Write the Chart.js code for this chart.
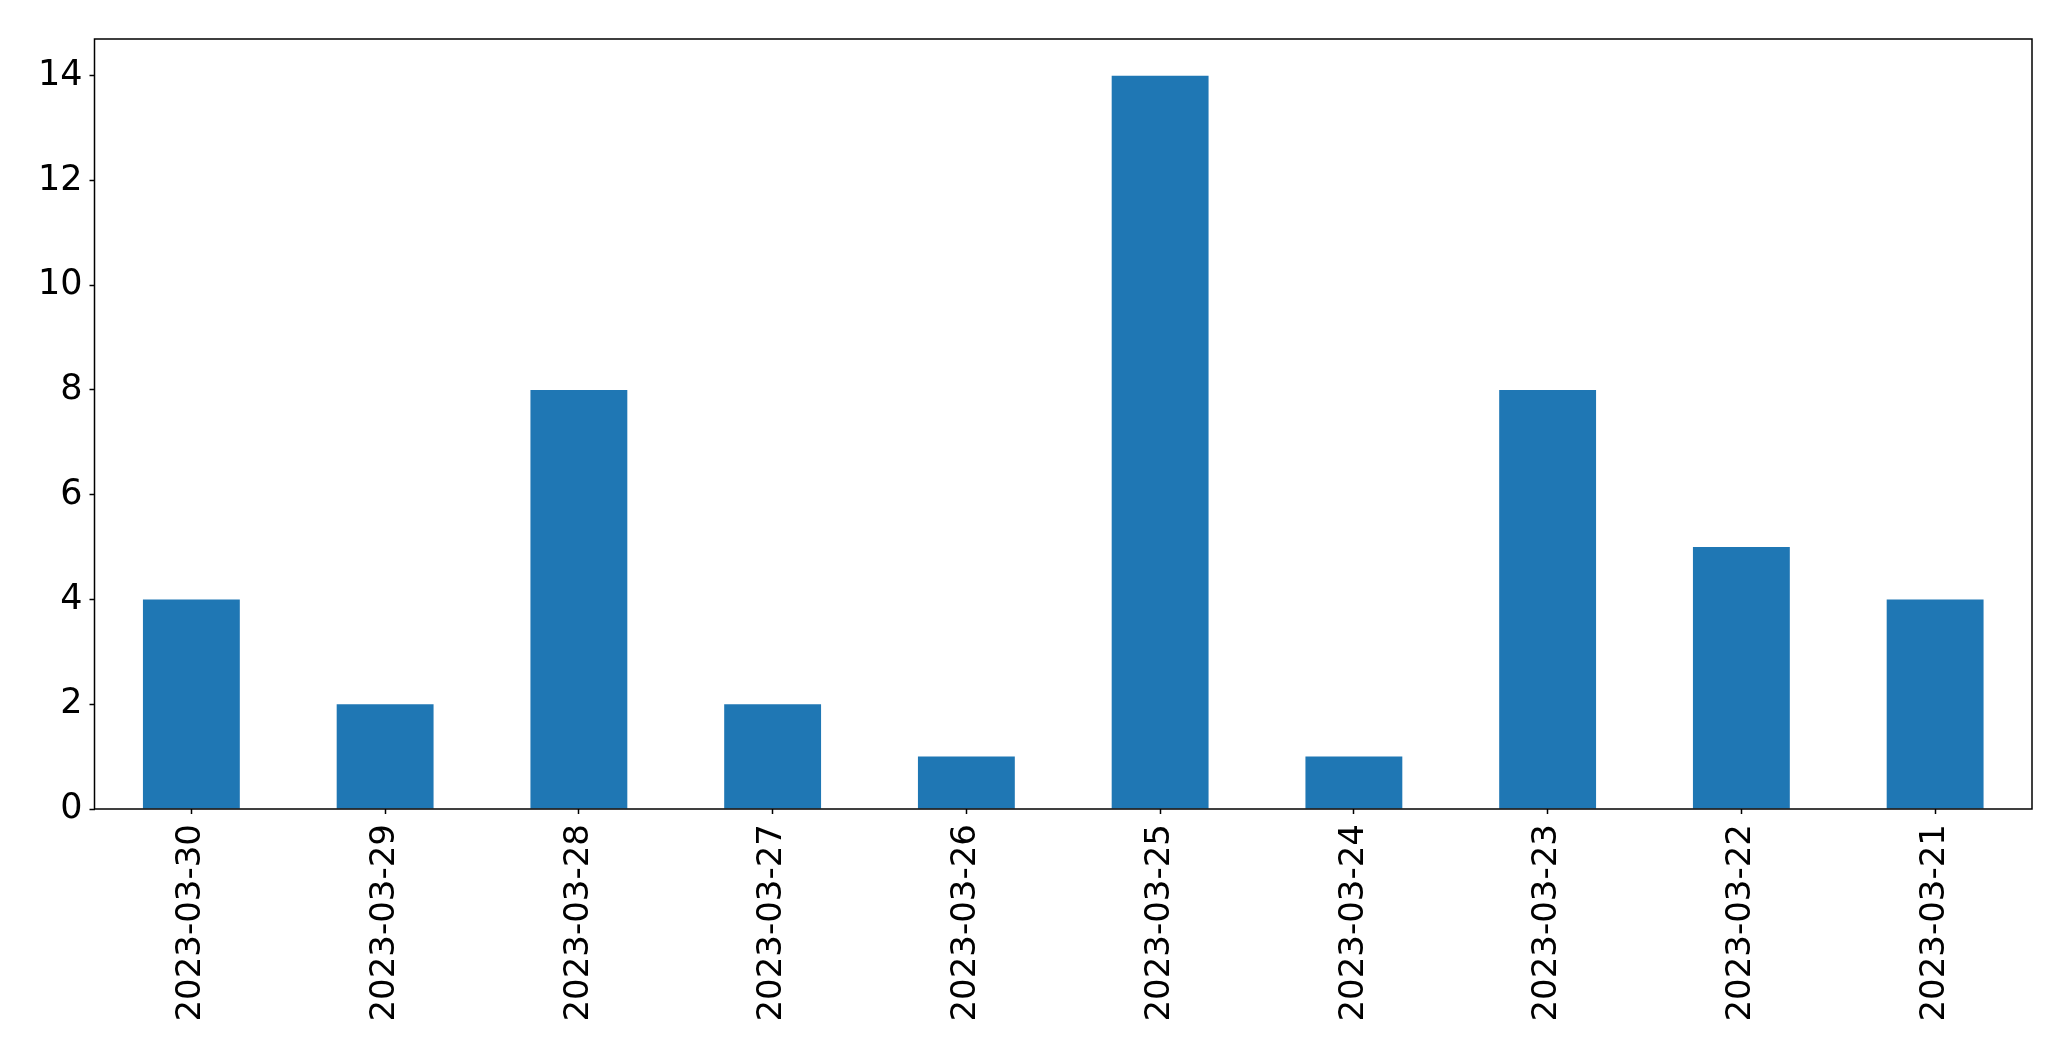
<!DOCTYPE html>
<html lang="en">

<head>
    <meta charset="UTF-8">
    <title>Daily counts</title>
    <style>
        html, body { margin: 0; padding: 0; background: #fff; }
        #wrap { width: 2071px; height: 1061px; }
    </style>
</head>

<body>
    <div id="wrap"><canvas id="barCanvas" width="2071" height="1061"></canvas></div>

    <script src="https://cdn.jsdelivr.net/npm/chart.js@4.4.0/dist/chart.umd.min.js" charset="UTF-8"></script>
    <script>
        // data
        const dates = ['2023-03-30', '2023-03-29', '2023-03-28', '2023-03-27', '2023-03-26',
            '2023-03-25', '2023-03-24', '2023-03-23', '2023-03-22', '2023-03-21'];
        const counts = [4, 2, 8, 2, 1, 14, 1, 8, 5, 4];
        const yTicks = [0, 2, 4, 6, 8, 10, 12, 14];

        Chart.defaults.font.family = "'DejaVu Sans', sans-serif";
        Chart.defaults.font.size = 35;
        Chart.defaults.color = '#000';

        // box round the plot, like a matplotlib axes frame
        const frame = {
            id: 'frame',
            afterDraw(chart) {
                const a = chart.chartArea;
                const c = chart.ctx;
                c.save();
                c.strokeStyle = '#000';
                c.lineWidth = 1.5;
                c.strokeRect(a.left, a.top, a.right - a.left, a.bottom - a.top);
                c.restore();
            }
        };

        var ctx = document.getElementById('barCanvas').getContext('2d');
        var barChart = new Chart(ctx, {
            type: 'bar',
            data: {
                labels: dates,
                datasets: [{
                    data: counts,
                    backgroundColor: '#1f77b4',
                    borderWidth: 0,
                    barPercentage: 0.5,
                    categoryPercentage: 1.0
                }]
            },
            options: {
                responsive: false,
                animation: false,
                devicePixelRatio: 1,
                layout: { padding: { top: 39, right: 39, left: 0, bottom: 0 } },
                plugins: {
                    legend: { display: false },
                    tooltip: { enabled: false }
                },
                scales: {
                    x: {
                        grid: { offset: false, drawOnChartArea: false, tickLength: 5, tickColor: '#000', tickWidth: 1.5 },
                        border: { display: false },
                        ticks: { minRotation: 90, maxRotation: 90, padding: 10, autoSkip: false, font: { size: 34 } },
                        afterFit(scale) { scale.height = 252; }
                    },
                    y: {
                        min: 0,
                        max: 14.7,
                        grid: { drawOnChartArea: false, tickLength: 5, tickColor: '#000', tickWidth: 1.5 },
                        border: { display: false },
                        ticks: { stepSize: 2, includeBounds: false, padding: 7 },
                        afterBuildTicks(scale) { scale.ticks = yTicks.map(v => ({ value: v })); },
                        afterFit(scale) { scale.width = 94.5; }
                    }
                }
            },
            plugins: [frame]
        });
    </script>
</body>

</html>
